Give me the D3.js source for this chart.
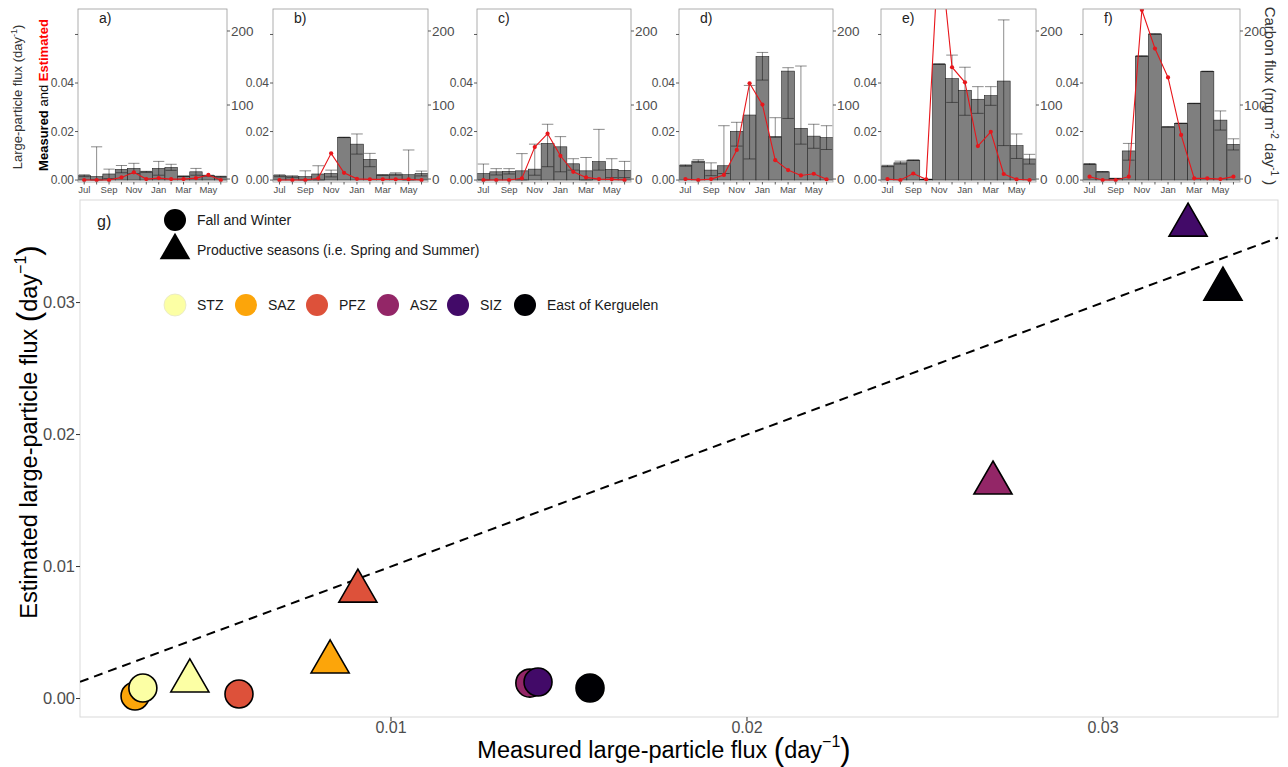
<!DOCTYPE html>
<html><head><meta charset="utf-8">
<script src="https://cdn.jsdelivr.net/npm/d3@7"></script>
<style>body{margin:0;background:#fff} svg{font-family:"Liberation Sans",Arial,sans-serif}</style>
</head><body><svg id="c" width="1288" height="767"></svg>
<script>
// ---------- DATA ----------
const months = ["Jul","Aug","Sep","Oct","Nov","Dec","Jan","Feb","Mar","Apr","May","Jun"];
const monthTickLabels = ["Jul","","Sep","","Nov","","Jan","","Mar","","May",""];
const leftTicks = [0, 0.02, 0.04, 0.06];
const leftTickLabels = ["0.00","0.02","0.04",""];
const rightTicks = [0, 100, 200];
const panelNames = ["a)","b)","c)","d)","e)","f)"];

// measured mean, upper & lower error, estimated (day^-1)
const measA = [0.0018,0.0014,0.0025,0.0044,0.0048,0.0034,0.0048,0.0052,0.0016,0.0034,0.0018,0.0014];
const hiA   = [0.0022,0.0137,0.0045,0.0060,0.0069,0.0036,0.0077,0.0065,0.0017,0.0048,0.0020,0.0016];
const loA   = [0.0014,0.0000,0.0006,0.0030,0.0027,0.0032,0.0020,0.0040,0.0015,0.0020,0.0016,0.0012];
const estA  = [0,0,0,0.0011,0.0032,0.0004,0.0008,0.0004,0.0004,0.0008,0.0021,0];

const measB = [0.0018,0.0014,0.0014,0.0025,0.0027,0.0176,0.0148,0.0085,0.0021,0.0025,0.0022,0.0027];
const hiB   = [0.0022,0.0018,0.0038,0.0059,0.0041,0.0177,0.0190,0.0110,0.0022,0.0030,0.0124,0.0037];
const loB   = [0.0014,0.0010,0.0000,0.0000,0.0013,0.0175,0.0107,0.0055,0.0020,0.0020,0.0000,0.0017];
const estB  = [0,0,0,0.0007,0.0110,0.0030,0.0005,0.0003,0.0003,0.0003,0.0003,0];

const measC = [0.0027,0.0034,0.0036,0.0038,0.0045,0.0151,0.0137,0.0067,0.0038,0.0076,0.0044,0.0040];
const hiC   = [0.0066,0.0047,0.0047,0.0109,0.0148,0.0230,0.0179,0.0088,0.0093,0.0209,0.0088,0.0077];
const loC   = [0.0000,0.0021,0.0025,0.0000,0.0020,0.0055,0.0034,0.0041,0.0000,0.0041,0.0010,0.0010];
const estC  = [0,0,0,0.0007,0.0136,0.0191,0.0100,0.0034,0.0011,0.0004,0.0003,0];

const measD = [0.0060,0.0078,0.0041,0.0059,0.0201,0.0268,0.0509,0.0179,0.0449,0.0213,0.0181,0.0175];
const hiD   = [0.0063,0.0084,0.0071,0.0224,0.0238,0.0390,0.0526,0.0257,0.0463,0.0470,0.0230,0.0224];
const loD   = [0.0057,0.0073,0.0018,0.0027,0.0140,0.0087,0.0412,0.0176,0.0254,0.0148,0.0131,0.0126];
const estD  = [0.0004,0,0.0004,0.0021,0.0124,0.0399,0.0311,0.0082,0.0041,0.0019,0.0026,0.0003];

const measE = [0.0058,0.0071,0.0082,0.0003,0.0478,0.0418,0.0370,0.0333,0.0348,0.0408,0.0142,0.0087];
const hiE   = [0.0061,0.0078,0.0083,0.0004,0.0479,0.0515,0.0465,0.0385,0.0385,0.0660,0.0190,0.0106];
const loE   = [0.0055,0.0066,0.0081,0.0002,0.0477,0.0320,0.0267,0.0275,0.0308,0.0142,0.0089,0.0066];
const estE  = [0.0004,0,0.0027,0.0003,0.0990,0.0465,0.0403,0.0140,0.0199,0.0025,0.0003,0];

const measF = [0.0066,0.0034,0.0007,0.0120,0.0511,0.0602,0.0219,0.0234,0.0316,0.0448,0.0247,0.0147];
const hiF   = [0.0068,0.0035,0.0007,0.0151,0.0512,0.0603,0.0220,0.0235,0.0317,0.0449,0.0285,0.0170];
const loF   = [0.0064,0.0033,0.0007,0.0082,0.0510,0.0601,0.0218,0.0233,0.0315,0.0447,0.0206,0.0124];
const estF  = [0.0014,0,0,0.0014,0.0701,0.0542,0.0423,0.0186,0.0007,0.0007,0.0004,0.0014];

// scatter (panel g)
const zones = ["STZ","SAZ","PFZ","ASZ","SIZ","East of Kerguelen"];
const zoneColors = ["#FCFFA4","#FCA50A","#DD513A","#932667","#420A68","#000004"];
const measuredFW  = [0.00303,0.00281,0.00573,0.01390,0.01413,0.01559];
const estimatedFW = [0.00080,0.00019,0.00034,0.00117,0.00125,0.00080];
const measuredPS  = [0.00435,0.00829,0.00907,0.02691,0.03239,0.03337];
const estimatedPS = [0.00133,0.00277,0.00814,0.01633,0.03587,0.03102];
const xTicks = [0.01,0.02,0.03];
const yTicks = [0.00,0.01,0.02,0.03];

// ---------- DRAW ----------
const svg = d3.select("#c");
const panels = [
  {meas:measA,hi:hiA,lo:loA,est:estA},{meas:measB,hi:hiB,lo:loB,est:estB},
  {meas:measC,hi:hiC,lo:loC,est:estC},{meas:measD,hi:hiD,lo:loD,est:estD},
  {meas:measE,hi:hiE,lo:loE,est:estE},{meas:measF,hi:hiF,lo:loF,est:estF}];
const panelX = [[78,227],[273,428],[477,631],[679,833],[881,1036],[1083,1240]];
const pTop = 9, pBot = 182;
const defs = svg.append("defs");
const axisCol = "#4d4d4d";

panels.forEach((p,i)=>{
  const [x0,x1] = panelX[i];
  const x = d3.scaleBand().domain(months).range([x0,x1]).paddingInner(0).paddingOuter(0);
  const y = d3.scaleLinear().domain([-0.0008,0.0705]).range([pBot,pTop]);
  const yR = d3.scaleLinear().domain([-4,229.7]).range([pBot,pTop]);
  const cid = "clip"+i;
  defs.append("clipPath").attr("id",cid).append("rect")
    .attr("x",x0).attr("y",pTop).attr("width",x1-x0).attr("height",pBot-pTop);
  const g = svg.append("g");
  const inner = g.append("g").attr("clip-path",`url(#${cid})`);
  const bw = x.bandwidth();
  const cx = m => x(m)+bw/2;
  inner.selectAll("rect.bar").data(months).join("rect").attr("class","bar")
    .attr("x",m=>x(m)).attr("width",bw)
    .attr("y",(m,j)=>y(p.meas[j])).attr("height",(m,j)=>y(0)-y(p.meas[j]))
    .attr("fill","#7f7f7f").attr("stroke","#222").attr("stroke-width",0.6);
  const eb = inner.append("g").attr("stroke","#000").attr("stroke-opacity",0.45).attr("stroke-width",1);
  months.forEach((m,j)=>{
    const c = cx(m), hw = bw*0.45;
    eb.append("line").attr("x1",c).attr("x2",c).attr("y1",y(p.lo[j])).attr("y2",y(p.hi[j]));
    eb.append("line").attr("x1",c-hw).attr("x2",c+hw).attr("y1",y(p.hi[j])).attr("y2",y(p.hi[j]));
    eb.append("line").attr("x1",c-hw).attr("x2",c+hw).attr("y1",y(p.lo[j])).attr("y2",y(p.lo[j]));
  });
  inner.append("path").datum(p.est)
    .attr("d", d3.line().x((v,j)=>cx(months[j])).y(v=>y(v)))
    .attr("fill","none").attr("stroke","#e8161b").attr("stroke-width",1.1);
  inner.selectAll("circle.est").data(p.est).join("circle").attr("class","est")
    .attr("cx",(v,j)=>cx(months[j])).attr("cy",v=>y(v)).attr("r",2.1).attr("fill","#e8161b");
  // border
  g.append("rect").attr("x",x0).attr("y",pTop).attr("width",x1-x0).attr("height",pBot-pTop)
    .attr("fill","none").attr("stroke","#9a9a9a").attr("stroke-width",0.8);
  // left axis
  leftTicks.forEach((t,k)=>{
    g.append("line").attr("x1",x0-3).attr("x2",x0).attr("y1",y(t)).attr("y2",y(t)).attr("stroke","#333").attr("stroke-width",0.8);
    g.append("text").attr("x",x0-4).attr("y",y(t)).attr("dy","0.35em").attr("text-anchor","end")
      .attr("font-size",12).attr("fill",axisCol).text(leftTickLabels[k]);
  });
  // right axis
  rightTicks.forEach(t=>{
    g.append("line").attr("x1",x1).attr("x2",x1+3).attr("y1",yR(t)).attr("y2",yR(t)).attr("stroke","#333").attr("stroke-width",0.8);
    g.append("text").attr("x",x1+4).attr("y",yR(t)).attr("dy","0.35em").attr("text-anchor","start")
      .attr("font-size",13.5).attr("fill",axisCol).text(t);
  });
  // bottom axis
  months.forEach((m,j)=>{
    g.append("line").attr("x1",cx(m)).attr("x2",cx(m)).attr("y1",pBot).attr("y2",pBot+2.5).attr("stroke","#333").attr("stroke-width",0.8);
    if (monthTickLabels[j]) g.append("text").attr("x",cx(m)).attr("y",pBot+11).attr("text-anchor","middle")
      .attr("font-size",9.5).attr("fill",axisCol).text(monthTickLabels[j]);
  });
  g.append("text").attr("x",x0+21).attr("y",pTop+14).attr("font-size",14).attr("fill","#222").text(panelNames[i]);
});

// small-panel titles
const lt1 = svg.append("text").attr("transform","translate(22,97) rotate(-90)").attr("text-anchor","middle")
  .attr("font-size",13).attr("fill","#333");
lt1.append("tspan").text("Large-particle  flux (day");
lt1.append("tspan").attr("font-size",9).attr("dy",-5).text("-1");
lt1.append("tspan").attr("dy",5).text(")");
const lt2 = svg.append("text").attr("transform","translate(48,95) rotate(-90)").attr("text-anchor","middle")
  .attr("font-size",13).attr("fill","#000");
lt2.append("tspan").attr("font-weight","bold").text("Measured");
lt2.append("tspan").text(" and ");
lt2.append("tspan").attr("font-weight","bold").attr("fill","#ff0000").text("Estimated");
const rt = svg.append("text").attr("transform","translate(1265,96) rotate(90)").attr("text-anchor","middle")
  .attr("font-size",15).attr("fill","#333");
rt.append("tspan").text("Carbon flux (mg m");
rt.append("tspan").attr("font-size",10).attr("dy",-6).text("-2");
rt.append("tspan").attr("dy",6).text(" day");
rt.append("tspan").attr("font-size",10).attr("dy",-6).text("-1");
rt.append("tspan").attr("dy",6).text(" )");

// ---------- panel g ----------
const gx0 = 80, gx1 = 1278, gy0 = 200, gy1 = 717;
const xs = d3.scaleLinear().domain([0.001264,0.034916]).range([gx0,gx1]);
const ys = d3.scaleLinear().domain([-0.0014,0.03777]).range([gy1,gy0]);
defs.append("clipPath").attr("id","clipg").append("rect").attr("x",gx0).attr("y",gy0).attr("width",gx1-gx0).attr("height",gy1-gy0);
svg.append("rect").attr("x",gx0).attr("y",gy0).attr("width",gx1-gx0).attr("height",gy1-gy0)
  .attr("fill","none").attr("stroke","#d9d9d9").attr("stroke-width",1);
const gg = svg.append("g").attr("clip-path","url(#clipg)");
const dom = xs.domain();
gg.append("line").attr("x1",xs(dom[0])).attr("y1",ys(dom[0])).attr("x2",xs(dom[1])).attr("y2",ys(dom[1]))
  .attr("stroke","#000").attr("stroke-width",2).attr("stroke-dasharray","9,6");

function tri(cx,cy,r){
  return `M${cx},${cy-r}L${cx+0.866*r},${cy+r/2}L${cx-0.866*r},${cy+r/2}Z`;
}
// circles (fall & winter) - draw order so STZ over SAZ, SIZ over ASZ
const fwOrder = [5,2,1,0,3,4];
gg.selectAll("circle.fw").data(fwOrder).join("circle").attr("class","fw")
  .attr("cx",i=>xs(measuredFW[i])).attr("cy",i=>ys(estimatedFW[i])).attr("r",14)
  .attr("fill",i=>zoneColors[i]).attr("stroke","#000").attr("stroke-width",1.6);
gg.selectAll("path.ps").data(d3.range(zones.length)).join("path").attr("class","ps")
  .attr("d",i=>tri(xs(measuredPS[i]),ys(estimatedPS[i]),22))
  .attr("fill",i=>zoneColors[i]).attr("stroke","#000").attr("stroke-width",1.6).attr("stroke-linejoin","miter");

// axes
xTicks.forEach(t=>{
  svg.append("line").attr("x1",xs(t)).attr("x2",xs(t)).attr("y1",gy1).attr("y2",gy1+4).attr("stroke","#333");
  svg.append("text").attr("x",xs(t)).attr("y",gy1+16).attr("text-anchor","middle").attr("font-size",16).attr("fill",axisCol).text(d3.format(".2f")(t));
});
yTicks.forEach(t=>{
  svg.append("line").attr("x1",gx0-4).attr("x2",gx0).attr("y1",ys(t)).attr("y2",ys(t)).attr("stroke","#333");
  svg.append("text").attr("x",gx0-5).attr("y",ys(t)).attr("dy","0.35em").attr("text-anchor","end").attr("font-size",16.5).attr("fill",axisCol).text(d3.format(".2f")(t));
});
function fluxTitle(sel, label){
  sel.append("tspan").text(label+" ");
  sel.append("tspan").attr("font-size",31).attr("dy",2).text("(");
  sel.append("tspan").attr("dy",-2).text("day");
  sel.append("tspan").attr("font-size",16).attr("dy",-11).text("\u22121");
  sel.append("tspan").attr("font-size",31).attr("dy",13).text(")");
}
const xt = svg.append("text").attr("x",664).attr("y",758).attr("text-anchor","middle").attr("font-size",23.5).attr("fill","#000");
fluxTitle(xt,"Measured large-particle flux");
const yt = svg.append("text").attr("transform","translate(37,432) rotate(-90)").attr("text-anchor","middle").attr("font-size",23.5).attr("fill","#000");
fluxTitle(yt,"Estimated large-particle flux");

// panel label & legends
svg.append("text").attr("x",97).attr("y",227).attr("font-size",16).attr("fill","#222").text("g)");
svg.append("circle").attr("cx",175).attr("cy",220).attr("r",11).attr("fill","#000");
svg.append("path").attr("d",tri(175,250.5,17.7)).attr("fill","#000");
svg.append("text").attr("x",197).attr("y",220).attr("dy","0.35em").attr("font-size",14).attr("fill","#1a1a1a").text("Fall and Winter");
svg.append("text").attr("x",197).attr("y",250).attr("dy","0.35em").attr("font-size",14).attr("fill","#1a1a1a").text("Productive seasons (i.e. Spring and Summer)");
const legX = [175,246,317,388,458,525];
zones.forEach((z,i)=>{
  svg.append("circle").attr("cx",legX[i]).attr("cy",305).attr("r",11).attr("fill",zoneColors[i])
    .attr("stroke",i===0?"#e6e6c8":"none").attr("stroke-width",0.8);
  svg.append("text").attr("x",legX[i]+22).attr("y",305).attr("dy","0.35em").attr("font-size",14).attr("fill","#1a1a1a").text(z);
});
</script></body></html>
